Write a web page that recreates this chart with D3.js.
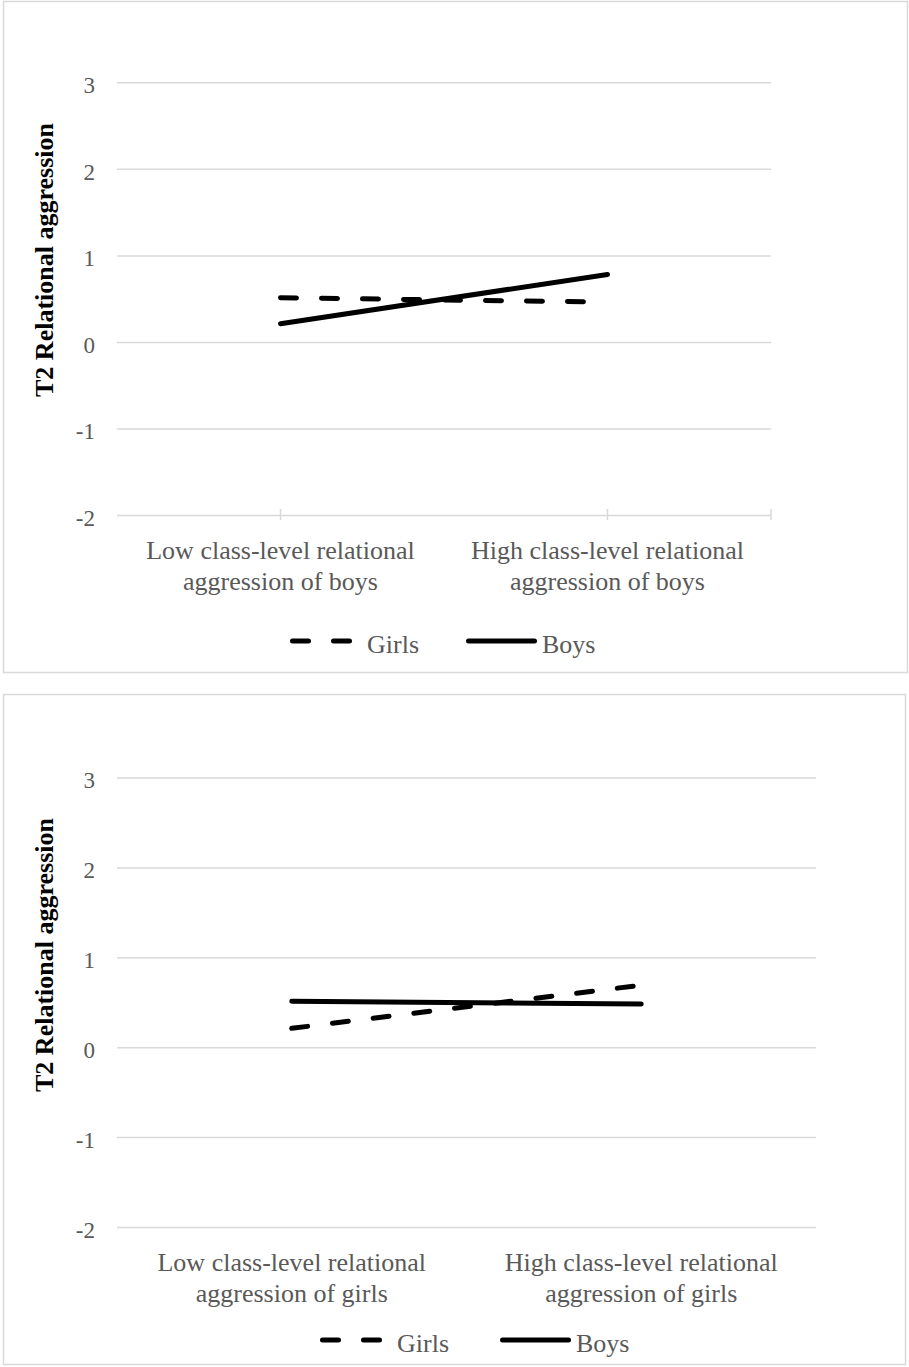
<!DOCTYPE html>
<html>
<head>
<meta charset="utf-8">
<script src="https://cdn.jsdelivr.net/npm/d3@7"></script>
<style>
  body { margin: 0; background: #fff; }
  svg { display: block; }
</style>
</head>
<body>
<div id="chart"></div>
<script>
// values
const yTicks = [-2, -1, 0, 1, 2, 3];
const seriesNames = ["Girls", "Boys"];
const topCategories = [
    ["Low class-level relational", "aggression of boys"],
    ["High class-level relational", "aggression of boys"]
];
const topGirls = [0.51, 0.46];
const topBoys = [0.21, 0.78];
const bottomCategories = [
    ["Low class-level relational", "aggression of girls"],
    ["High class-level relational", "aggression of girls"]
];
const bottomGirls = [0.21, 0.69];
const bottomBoys = [0.51, 0.48];
const yTitle = "T2 Relational aggression";

const W = 909, H = 1367;
const FONT = "'Liberation Serif', 'Times New Roman', serif";
const GREY = "#595959";
const GRID = "#d9d9d9";

const svg = d3.select("#chart").append("svg")
    .attr("width", W)
    .attr("height", H);

function drawPanel(cfg) {
    // outer frame
    svg.append("rect")
        .attr("x", cfg.box[0] + 0.5).attr("y", cfg.box[1] + 0.5)
        .attr("width", cfg.box[2] - cfg.box[0]).attr("height", cfg.box[3] - cfg.box[1])
        .attr("fill", "#fff")
        .attr("stroke", GRID)
        .attr("stroke-width", 1.5);

    const x = d3.scaleBand()
        .domain(cfg.categories.map((c, i) => i))
        .range([cfg.left, cfg.right])
        .paddingInner(0).paddingOuter(0);
    const y = d3.scaleLinear()
        .domain([-2, 3])
        .range([cfg.bottom, cfg.top]);

    const g = svg.append("g");

    // gridlines + tick labels (plain hyphen for negatives, like the original)
    const yAxis = d3.axisLeft(y)
        .tickValues(yTicks)
        .tickSize(-(cfg.right - cfg.left))
        .tickPadding(22)
        .tickFormat(d => String(d));
    const ya = g.append("g")
        .attr("transform", `translate(${cfg.left},0)`)
        .call(yAxis);
    ya.select(".domain").remove();
    ya.selectAll(".tick line")
        .attr("stroke", GRID)
        .attr("stroke-width", 1.5);
    ya.selectAll(".tick text")
        .attr("fill", GREY)
        .attr("dy", "0.45em")
        .style("font-family", FONT)
        .style("font-size", "23px");

    // small tick marks on the category axis
    if (cfg.catTicks) {
        const marks = cfg.categories.map((c, i) => x(i) + x.bandwidth() / 2).concat([cfg.right]);
        g.selectAll(".cat-tick")
            .data(marks)
            .join("line")
            .attr("class", "cat-tick")
            .attr("x1", d => d).attr("x2", d => d)
            .attr("y1", y(-2) - 6).attr("y2", y(-2) + 5)
            .attr("stroke", GRID)
            .attr("stroke-width", 1.5);
    }

    // category labels
    const cat = g.selectAll(".cat")
        .data(cfg.categories)
        .join("text")
        .attr("class", "cat")
        .attr("text-anchor", "middle")
        .attr("fill", GREY)
        .style("font-family", FONT)
        .style("font-size", "26px");
    cat.each(function(lines, i) {
        d3.select(this).selectAll("tspan")
            .data(lines)
            .join("tspan")
            .attr("x", x(i) + x.bandwidth() / 2)
            .attr("y", (d, j) => y(-2) + 44 + j * 31)
            .text(d => d);
    });

    // y title
    g.append("text")
        .attr("transform", `translate(53,${cfg.titleY}) rotate(-90)`)
        .attr("text-anchor", "middle")
        .attr("fill", "#000")
        .style("font-family", FONT)
        .style("font-size", "26px")
        .style("font-weight", "bold")
        .text(yTitle);

    // series lines
    const line = d3.line()
        .x((d, i) => x(i) + x.bandwidth() / 2)
        .y(d => y(d));
    const series = [
        { name: seriesNames[0], values: cfg.girls, dash: "16,25" },
        { name: seriesNames[1], values: cfg.boys, dash: null }
    ];
    g.selectAll(".series")
        .data(series)
        .join("path")
        .attr("class", "series")
        .attr("d", d => line(d.values))
        .attr("fill", "none")
        .attr("stroke", "#000")
        .attr("stroke-width", 5)
        .attr("stroke-linecap", "round")
        .attr("stroke-dasharray", d => d.dash);

    // legend
    const lg = g.append("g");
    const L = cfg.legend;
    series.forEach((s, i) => {
        const item = L.items[i];
        lg.append("line")
            .attr("x1", item[0]).attr("x2", item[1])
            .attr("y1", L.y).attr("y2", L.y)
            .attr("stroke", "#000")
            .attr("stroke-width", 5)
            .attr("stroke-linecap", "round")
            .attr("stroke-dasharray", s.dash);
        lg.append("text")
            .attr("x", item[2])
            .attr("y", L.y + 12)
            .attr("fill", GREY)
            .style("font-family", FONT)
            .style("font-size", "26px")
            .text(s.name);
    });
}

drawPanel({
    box: [3, 1, 907, 672],
    left: 117, right: 771, top: 82.3, bottom: 515,
    categories: topCategories,
    girls: topGirls, boys: topBoys,
    catTicks: true,
    titleY: 260,
    legend: { y: 641, items: [[292.5, 351, 367], [468.5, 534.5, 542]] }
});

drawPanel({
    box: [3, 694, 905, 1364],
    left: 117, right: 816, top: 777.5, bottom: 1227,
    categories: bottomCategories,
    girls: bottomGirls, boys: bottomBoys,
    catTicks: false,
    titleY: 955,
    legend: { y: 1340, items: [[322.5, 381, 397], [502.5, 568.5, 576]] }
});
</script>
</body>
</html>
